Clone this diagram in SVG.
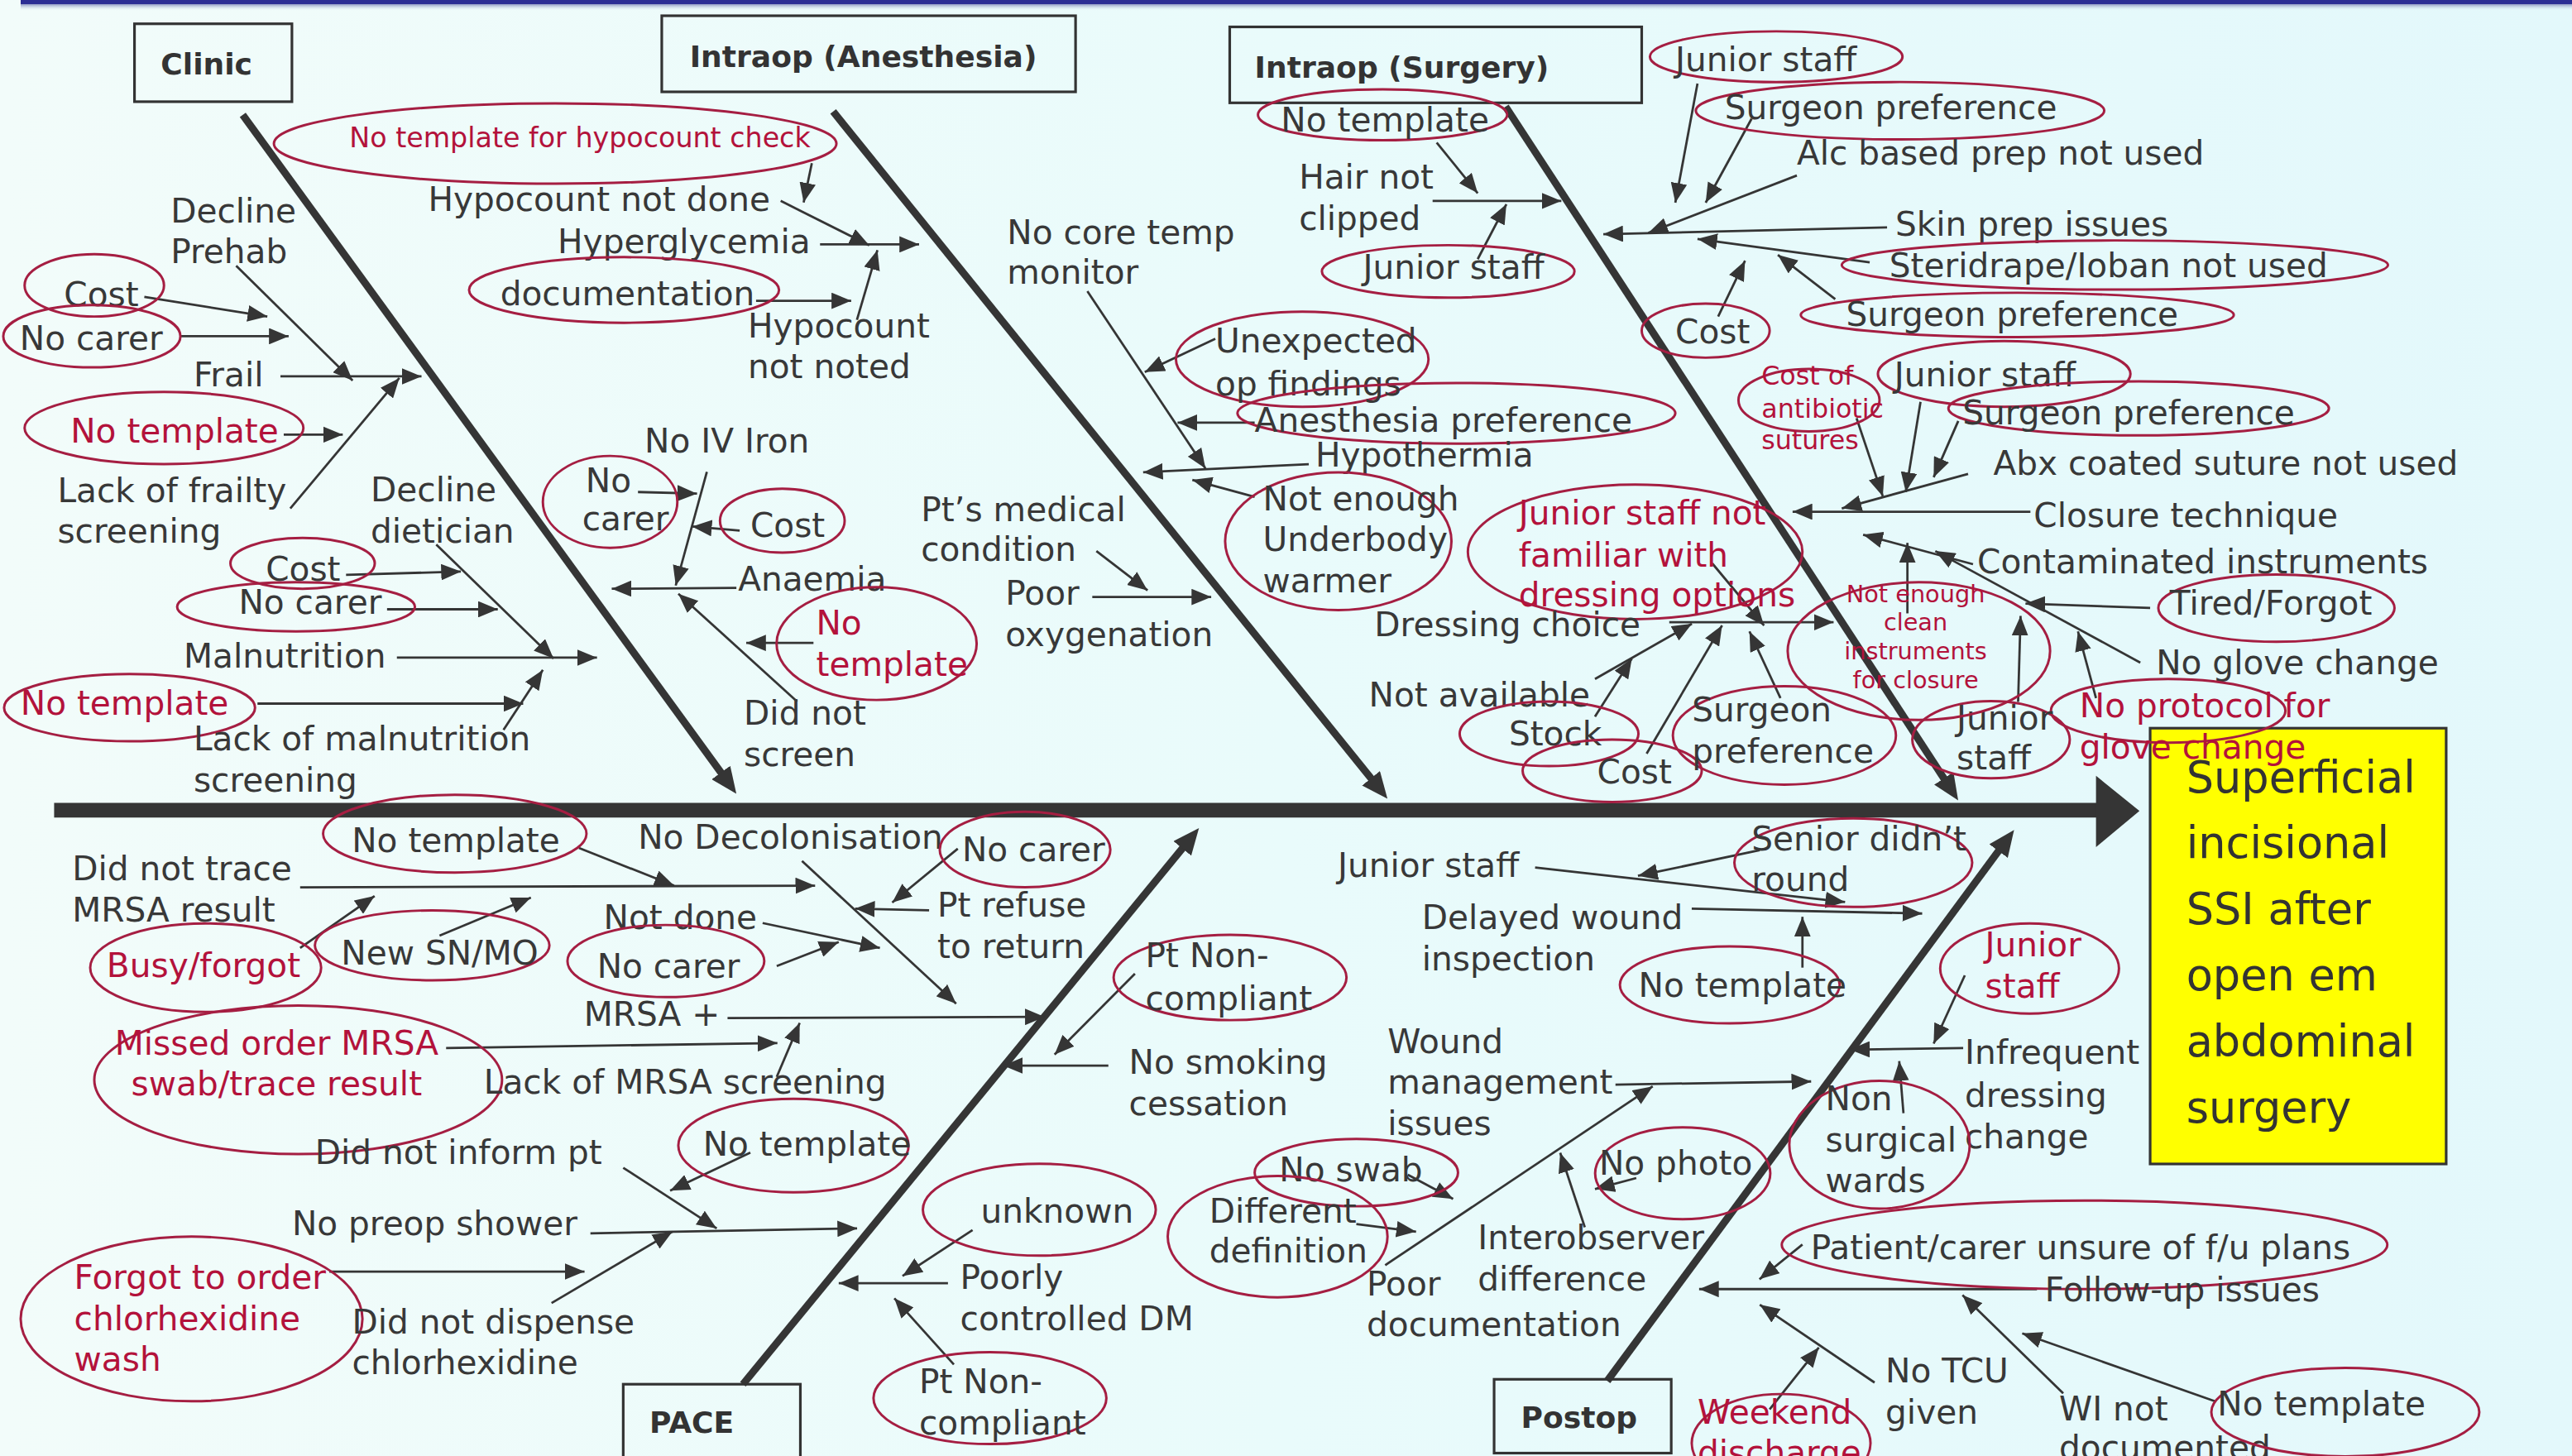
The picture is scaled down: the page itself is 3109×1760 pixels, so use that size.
<svg xmlns="http://www.w3.org/2000/svg" width="3109" height="1760" viewBox="0 0 3109 1760">
<defs>
<linearGradient id="bg" x1="0" x2="1" y1="0" y2="0"><stop offset="0" stop-color="#f2fcfa"/><stop offset="0.5" stop-color="#e9fbfb"/><stop offset="1" stop-color="#e3f8fb"/></linearGradient>
<linearGradient id="topsh" x1="0" x2="0" y1="0" y2="1"><stop offset="0" stop-color="#8f97c2"/><stop offset="1" stop-color="#e9fbfb" stop-opacity="0"/></linearGradient>
<marker id="ah" markerUnits="userSpaceOnUse" markerWidth="12" markerHeight="10" refX="12" refY="5" orient="auto"><path d="M0,0 L12,5 L0,10 z" fill="#353535"/></marker>
<marker id="bh" markerUnits="userSpaceOnUse" markerWidth="16" markerHeight="14" refX="6" refY="7" orient="auto"><path d="M0,0 L16,7 L0,14 z" fill="#353535"/></marker>
<style>
.t{font-family:"DejaVu Sans",Verdana,sans-serif;font-size:20.5px;fill:#383838}
.r{fill:#b3123b}
.e{fill:none;stroke:#a51e42;stroke-width:1.5}
.c{fill:none;stroke:#353535;stroke-width:1.4;marker-end:url(#ah)}
.bone{fill:none;stroke:#353535;stroke-width:4.5;marker-end:url(#bh)}
.box{fill:none;stroke:#333;stroke-width:1.6}
.bl{font-family:"DejaVu Sans",Verdana,sans-serif;font-weight:bold;font-size:18.2px;fill:#333}
.y{font-family:"DejaVu Sans",Verdana,sans-serif;font-size:26.5px;fill:#333}
</style>
</defs>
<rect x="0" y="0" width="3109" height="1760" fill="url(#bg)"/>
<rect x="25" y="0" width="3084" height="5" fill="#2c2e94"/>
<rect x="25" y="5" width="3084" height="8" fill="url(#topsh)"/>
<g transform="scale(1.9825)">
<g id="connectors">
<line x1="33" y1="494" x2="1282" y2="494" stroke="#353535" stroke-width="9"/>
<polygon points="1278,473 1304.5,494.5 1278,516.5" fill="#353535"/>
<line class="bone" x1="148" y1="70" x2="443.1" y2="475.9"/>
<line class="bone" x1="508" y1="68" x2="839.7" y2="479.2"/>
<line class="bone" x1="918" y1="65" x2="1188.5" y2="479.6"/>
<line class="bone" x1="453" y1="844" x2="724.7" y2="512.7"/>
<line class="bone" x1="980" y1="842" x2="1222.1" y2="514.1"/>
<!-- clinic -->
<line class="c" x1="144" y1="162" x2="215" y2="232"/>
<line class="c" x1="88" y1="181" x2="163" y2="193"/>
<line class="c" x1="110" y1="205" x2="176" y2="205"/>
<line class="c" x1="171" y1="229.5" x2="257" y2="229.5"/>
<line class="c" x1="173" y1="265" x2="209" y2="265"/>
<line class="c" x1="177" y1="310" x2="243.5" y2="230.5"/>
<line class="c" x1="266" y1="332" x2="337.5" y2="401.5"/>
<line class="c" x1="211" y1="350.5" x2="281" y2="348.5"/>
<line class="c" x1="236" y1="371.5" x2="303.5" y2="371.5"/>
<line class="c" x1="242" y1="401" x2="364" y2="401"/>
<line class="c" x1="157" y1="429" x2="319" y2="429"/>
<line class="c" x1="307" y1="445" x2="331" y2="408.5"/>
<!-- anesthesia -->
<line class="c" x1="495" y1="99.5" x2="490" y2="123.5"/>
<line class="c" x1="476" y1="122.5" x2="530" y2="149.6"/>
<line class="c" x1="500" y1="149" x2="560.4" y2="149"/>
<line class="c" x1="461" y1="183.4" x2="519" y2="183.4"/>
<line class="c" x1="522.5" y1="195" x2="535" y2="152.5"/>
<line class="c" x1="663" y1="177.6" x2="735" y2="285.6"/>
<line class="c" x1="741" y1="206.5" x2="698" y2="226.8"/>
<line class="c" x1="765" y1="257.7" x2="718" y2="257.7"/>
<line class="c" x1="798" y1="283" x2="697" y2="288"/>
<line class="c" x1="765" y1="303" x2="727" y2="292.6"/>
<line class="c" x1="431" y1="287.7" x2="412" y2="357"/>
<line class="c" x1="389" y1="300" x2="425" y2="301"/>
<line class="c" x1="451" y1="323.5" x2="422" y2="321"/>
<line class="c" x1="449" y1="358.5" x2="373" y2="359"/>
<line class="c" x1="496" y1="392" x2="455" y2="392"/>
<line class="c" x1="486" y1="427.7" x2="413.6" y2="362"/>
<line class="c" x1="668.5" y1="336" x2="699.7" y2="360"/>
<line class="c" x1="666" y1="364" x2="738.5" y2="364"/>
<!-- surgery -->
<line class="c" x1="876" y1="87" x2="901" y2="117.8"/>
<line class="c" x1="873.5" y1="122.5" x2="952" y2="122.5"/>
<line class="c" x1="901" y1="158" x2="918.5" y2="124.5"/>
<line class="c" x1="1035" y1="51" x2="1021.5" y2="123.6"/>
<line class="c" x1="1068" y1="72.4" x2="1040" y2="123.6"/>
<line class="c" x1="1095.6" y1="107" x2="1005" y2="142"/>
<line class="c" x1="1150.6" y1="138.6" x2="977.6" y2="142.8"/>
<line class="c" x1="1140" y1="160" x2="1035" y2="145.7"/>
<line class="c" x1="1119" y1="182.4" x2="1084" y2="155.4"/>
<line class="c" x1="1047.6" y1="193" x2="1064" y2="159"/>
<line class="c" x1="1132" y1="255" x2="1148" y2="302.6"/>
<line class="c" x1="1171" y1="245" x2="1162" y2="300"/>
<line class="c" x1="1194" y1="256.7" x2="1179" y2="291"/>
<line class="c" x1="1200" y1="289" x2="1123" y2="310"/>
<line class="c" x1="1238" y1="312" x2="1093" y2="312"/>
<line class="c" x1="1203" y1="344" x2="1136" y2="326"/>
<line class="c" x1="1305" y1="404" x2="1180" y2="336"/>
<line class="c" x1="1311" y1="370.7" x2="1235" y2="368"/>
<line class="c" x1="1163" y1="374" x2="1163" y2="331"/>
<line class="c" x1="1230.5" y1="428" x2="1232" y2="375.5"/>
<line class="c" x1="1278" y1="425.7" x2="1267" y2="385"/>
<line class="c" x1="1017.8" y1="379.4" x2="1118" y2="379.4"/>
<line class="c" x1="1044" y1="343.5" x2="1075.6" y2="381.4"/>
<line class="c" x1="972.5" y1="414" x2="1031.6" y2="380.3"/>
<line class="c" x1="972.5" y1="437" x2="995" y2="401.5"/>
<line class="c" x1="1004" y1="459.5" x2="1050" y2="381.3"/>
<line class="c" x1="1085.6" y1="425.7" x2="1066.7" y2="385"/>
<!-- pace -->
<line class="c" x1="353" y1="517" x2="411" y2="540"/>
<line class="c" x1="183" y1="541" x2="497" y2="540"/>
<line class="c" x1="183" y1="578" x2="228.4" y2="546.3"/>
<line class="c" x1="268" y1="570.5" x2="323.7" y2="547.3"/>
<line class="c" x1="489" y1="525" x2="583" y2="612"/>
<line class="c" x1="584" y1="517.5" x2="544" y2="550.3"/>
<line class="c" x1="566.5" y1="555" x2="521.4" y2="554"/>
<line class="c" x1="465" y1="562.8" x2="536.5" y2="578"/>
<line class="c" x1="473.6" y1="589" x2="511.4" y2="574.4"/>
<line class="c" x1="443.6" y1="620.8" x2="637" y2="620"/>
<line class="c" x1="272" y1="639" x2="474" y2="636"/>
<line class="c" x1="473.6" y1="656.6" x2="487.6" y2="623.7"/>
<line class="c" x1="380" y1="712" x2="437" y2="749"/>
<line class="c" x1="457.5" y1="702.8" x2="408.6" y2="726"/>
<line class="c" x1="360" y1="752" x2="522.6" y2="749"/>
<line class="c" x1="200.8" y1="775.3" x2="356.4" y2="775.3"/>
<line class="c" x1="336.3" y1="794.5" x2="410" y2="751"/>
<line class="c" x1="692" y1="593.7" x2="643" y2="643"/>
<line class="c" x1="675.8" y1="649.7" x2="611.7" y2="649.7"/>
<line class="c" x1="593" y1="750" x2="550.3" y2="778"/>
<line class="c" x1="578" y1="782.4" x2="511.4" y2="782.4"/>
<line class="c" x1="581.6" y1="832" x2="545.3" y2="791.6"/>
<!-- postop -->
<line class="c" x1="1073" y1="518.4" x2="998.7" y2="534"/>
<line class="c" x1="936" y1="529" x2="1125" y2="550"/>
<line class="c" x1="1031.5" y1="554" x2="1172" y2="557"/>
<line class="c" x1="1099" y1="590" x2="1099" y2="559"/>
<line class="c" x1="1198" y1="594.7" x2="1179" y2="636.3"/>
<line class="c" x1="1197" y1="639" x2="1128" y2="640"/>
<line class="c" x1="1160.6" y1="678.7" x2="1158" y2="647"/>
<line class="c" x1="985" y1="661.3" x2="1104.3" y2="659.4"/>
<line class="c" x1="844.6" y1="771.4" x2="1007.7" y2="662.4"/>
<line class="c" x1="966.3" y1="748.3" x2="951.3" y2="702.9"/>
<line class="c" x1="997.7" y1="718.3" x2="972.5" y2="725"/>
<line class="c" x1="858.4" y1="716.3" x2="886" y2="731"/>
<line class="c" x1="827" y1="746.3" x2="863.4" y2="751"/>
<line class="c" x1="1099" y1="758.8" x2="1072.8" y2="780"/>
<line class="c" x1="1242" y1="786" x2="1036" y2="786"/>
<line class="c" x1="1143" y1="843" x2="1073" y2="795.5"/>
<line class="c" x1="1079" y1="859.3" x2="1109" y2="821.6"/>
<line class="c" x1="1258" y1="849.5" x2="1196.6" y2="789.7"/>
<line class="c" x1="1350.8" y1="854.5" x2="1233" y2="813"/>
</g>
<!-- category boxes -->
<g id="box-clinic"><rect class="box" x="82" y="14.5" width="96" height="47.5"/><text class="bl" x="98" y="45.4">Clinic</text></g>
<g id="box-anesthesia"><rect class="box" x="403.5" y="9.6" width="252.3" height="46.4"/><text class="bl" x="420.5" y="41">Intraop (Anesthesia)</text></g>
<g id="box-surgery"><rect class="box" x="749.8" y="16.4" width="251.2" height="46.3"/><text class="bl" x="765" y="47.3">Intraop (Surgery)</text></g>
<g id="box-pace"><rect class="box" x="380" y="844" width="108" height="60"/><text class="bl" x="396" y="873.6">PACE</text></g>
<g id="box-postop"><rect class="box" x="911" y="841" width="108" height="45"/><text class="bl" x="927.4" y="870.6">Postop</text></g>
<g id="effect"><rect x="1311" y="444" width="180.5" height="265.7" fill="#ffff00" stroke="#333" stroke-width="1.6"/><text class="y"><tspan x="1333" y="483">Superficial</tspan><tspan x="1333" y="523.3">incisional</tspan><tspan x="1333" y="563.6">SSI after</tspan><tspan x="1333" y="604">open em</tspan><tspan x="1333" y="644.3">abdominal</tspan><tspan x="1333" y="684.6">surgery</tspan></text></g>
<!-- clinic nodes -->
<g id="c-decline-prehab"><text class="t"><tspan x="104" y="135.5">Decline</tspan><tspan x="104" y="160.5">Prehab</tspan></text></g>
<g id="c-cost1"><ellipse class="e" cx="57.5" cy="174" rx="42.5" ry="19"/><text class="t" x="39" y="186.5">Cost</text></g>
<g id="c-nocarer1"><ellipse class="e" cx="56" cy="205" rx="54" ry="19"/><text class="t" x="12" y="213.4">No carer</text></g>
<g id="c-frail"><text class="t" x="118" y="235.6">Frail</text></g>
<g id="c-notemplate1"><ellipse class="e" cx="100" cy="261" rx="85" ry="22"/><text class="t r" x="43" y="270">No template</text></g>
<g id="c-lack-frailty"><text class="t"><tspan x="35" y="306">Lack of frailty</tspan><tspan x="35" y="331">screening</tspan></text></g>
<g id="c-decline-dietician"><text class="t"><tspan x="226" y="305.7">Decline</tspan><tspan x="226" y="330.8">dietician</tspan></text></g>
<g id="c-cost2"><ellipse class="e" cx="184.5" cy="343.5" rx="44" ry="15.5"/><text class="t" x="162" y="354">Cost</text></g>
<g id="c-nocarer2"><ellipse class="e" cx="180.5" cy="370" rx="72.5" ry="15"/><text class="t" x="145.5" y="374.5">No carer</text></g>
<g id="c-malnutrition"><text class="t" x="112" y="407">Malnutrition</text></g>
<g id="c-notemplate2"><ellipse class="e" cx="79" cy="431.5" rx="76.5" ry="20.5"/><text class="t r" x="12.5" y="436">No template</text></g>
<g id="c-lack-maln"><text class="t"><tspan x="118" y="457.5">Lack of malnutrition</tspan><tspan x="118" y="482.7">screening</tspan></text></g>
<!-- anesthesia nodes -->
<g id="a-notemplate-hypo"><ellipse class="e" cx="338.5" cy="87.5" rx="171.5" ry="24.5"/><text class="t r" style="font-size:16.8px" x="213" y="90">No template for hypocount check</text></g>
<g id="a-hypocount-not-done"><text class="t" x="261" y="128.4">Hypocount not done</text></g>
<g id="a-hyperglycemia"><text class="t" x="340" y="154.5">Hyperglycemia</text></g>
<g id="a-documentation"><ellipse class="e" cx="380.5" cy="176.8" rx="94.5" ry="20"/><text class="t" x="305" y="186.3">documentation</text></g>
<g id="a-hypocount-not-noted"><text class="t"><tspan x="456" y="205.6">Hypocount</tspan><tspan x="456" y="230.7">not noted</tspan></text></g>
<g id="a-no-core-temp"><text class="t"><tspan x="614" y="148.6">No core temp</tspan><tspan x="614" y="172.8">monitor</tspan></text></g>
<g id="a-no-iv-iron"><text class="t" x="393" y="276">No IV Iron</text></g>
<g id="a-nocarer"><ellipse class="e" cx="372" cy="306" rx="41" ry="28"/><text class="t"><tspan x="357" y="300">No</tspan><tspan x="355" y="323.4">carer</tspan></text></g>
<g id="a-cost"><ellipse class="e" cx="477" cy="317.5" rx="38" ry="19.5"/><text class="t" x="457.5" y="327.5">Cost</text></g>
<g id="a-anaemia"><text class="t" x="450" y="360">Anaemia</text></g>
<g id="a-notemplate"><ellipse class="e" cx="534.5" cy="392.4" rx="61" ry="34.4"/><text class="t r"><tspan x="497.6" y="387">No</tspan><tspan x="497.6" y="412">template</tspan></text></g>
<g id="a-did-not-screen"><text class="t"><tspan x="453.5" y="442">Did not</tspan><tspan x="453.5" y="467">screen</tspan></text></g>
<g id="a-pt-medical"><text class="t"><tspan x="561.5" y="317.7">Pt’s medical</tspan><tspan x="561.5" y="341.8">condition</tspan></text></g>
<g id="a-poor-oxygenation"><text class="t"><tspan x="613" y="368.7">Poor</tspan><tspan x="613" y="394">oxygenation</tspan></text></g>
<g id="a-unexpected"><ellipse class="e" cx="794" cy="219" rx="77" ry="29"/><text class="t"><tspan x="741" y="215">Unexpected</tspan><tspan x="741" y="241">op findings</tspan></text></g>
<g id="a-anesthesia-pref"><ellipse class="e" cx="888" cy="252" rx="133.5" ry="18.5"/><text class="t" x="765" y="263.5">Anesthesia preference</text></g>
<g id="a-hypothermia"><text class="t" x="802" y="284.7">Hypothermia</text></g>
<g id="a-underbody"><ellipse class="e" cx="816" cy="330" rx="69" ry="42"/><text class="t"><tspan x="770" y="311">Not enough</tspan><tspan x="770" y="336">Underbody</tspan><tspan x="770" y="361">warmer</tspan></text></g>
<!-- surgery nodes -->
<g id="s-notemplate"><ellipse class="e" cx="843" cy="70" rx="76" ry="15.5"/><text class="t" x="781" y="80">No template</text></g>
<g id="s-hair"><text class="t"><tspan x="792" y="114.8">Hair not</tspan><tspan x="792" y="140">clipped</tspan></text></g>
<g id="s-junior1"><ellipse class="e" cx="883" cy="165.5" rx="77" ry="16"/><text class="t" x="831" y="170">Junior staff</text></g>
<g id="s-junior2"><ellipse class="e" cx="1083" cy="34.6" rx="77" ry="15.5"/><text class="t" x="1021.5" y="43.5">Junior staff</text></g>
<g id="s-surgpref1"><ellipse class="e" cx="1158.5" cy="67.5" rx="124.5" ry="17.5"/><text class="t" x="1051.6" y="72.4">Surgeon preference</text></g>
<g id="s-alc"><text class="t" x="1095.6" y="100.4">Alc based prep not used</text></g>
<g id="s-skinprep"><text class="t" x="1155.6" y="143.8">Skin prep issues</text></g>
<g id="s-steridrape"><ellipse class="e" cx="1289.5" cy="161.6" rx="166.5" ry="15"/><text class="t" x="1152" y="169">Steridrape/Ioban not used</text></g>
<g id="s-surgpref2"><ellipse class="e" cx="1230" cy="192" rx="132" ry="13.5"/><text class="t" x="1125.6" y="198.8">Surgeon preference</text></g>
<g id="s-cost1"><ellipse class="e" cx="1040" cy="201.6" rx="39" ry="16.5"/><text class="t" x="1021.5" y="209.5">Cost</text></g>
<g id="s-cost-abx"><ellipse class="e" cx="1103" cy="244" rx="43" ry="19"/><text class="t r" style="font-size:16px"><tspan x="1074" y="234.5">Cost of</tspan><tspan x="1074" y="254.8">antibiotic</tspan><tspan x="1074" y="274">sutures</tspan></text></g>
<g id="s-junior3"><ellipse class="e" cx="1222" cy="228" rx="77" ry="20"/><text class="t" x="1155" y="235.5">Junior staff</text></g>
<g id="s-surgpref3"><ellipse class="e" cx="1304" cy="249" rx="116" ry="16.5"/><text class="t" x="1196.6" y="258.6">Surgeon preference</text></g>
<g id="s-abx"><text class="t" x="1215.4" y="289.6">Abx coated suture not used</text></g>
<g id="s-closure"><text class="t" x="1240" y="321.5">Closure technique</text></g>
<g id="s-contaminated"><text class="t" x="1205.6" y="349.6">Contaminated instruments</text></g>
<g id="s-tired"><ellipse class="e" cx="1388" cy="370.8" rx="72" ry="20.5"/><text class="t" x="1323" y="374.6">Tired/Forgot</text></g>
<g id="s-noglove"><text class="t" x="1314.6" y="411">No glove change</text></g>
<g id="s-noprotocol"><ellipse class="e" cx="1322" cy="433.4" rx="71.5" ry="19.4"/><text class="t r"><tspan x="1268" y="437.4">No protocol for</tspan><tspan x="1268" y="462.6">glove change</tspan></text></g>
<g id="s-junior4"><ellipse class="e" cx="1214" cy="451" rx="48" ry="23.5"/><text class="t"><tspan x="1193" y="445">Junior</tspan><tspan x="1193" y="469">staff</tspan></text></g>
<g id="s-notenough-clean"><ellipse class="e" cx="1170" cy="397" rx="80" ry="42"/><text class="t r" style="font-size:14.5px" text-anchor="middle"><tspan x="1168" y="367">Not enough</tspan><tspan x="1168" y="384.5">clean</tspan><tspan x="1168" y="402">instruments</tspan><tspan x="1168" y="419.5">for closure</tspan></text></g>
<g id="s-junior-familiar"><ellipse class="e" cx="997" cy="336.5" rx="102" ry="41"/><text class="t r"><tspan x="926" y="319.6">Junior staff not</tspan><tspan x="926" y="345.6">familiar with</tspan><tspan x="926" y="369.8">dressing options</tspan></text></g>
<g id="s-dressing"><text class="t" x="838" y="388">Dressing choice</text></g>
<g id="s-notavailable"><text class="t" x="834.6" y="430.6">Not available</text></g>
<g id="s-stock"><ellipse class="e" cx="944.5" cy="447.4" rx="54.5" ry="19.7"/><text class="t" x="920" y="454.7">Stock</text></g>
<g id="s-cost2"><ellipse class="e" cx="983" cy="470" rx="54.6" ry="19"/><text class="t" x="973.8" y="477.6">Cost</text></g>
<g id="s-surgpref4"><ellipse class="e" cx="1088" cy="448.4" rx="68" ry="30"/><text class="t"><tspan x="1031.6" y="440">Surgeon</tspan><tspan x="1031.6" y="465">preference</tspan></text></g>
<!-- pace nodes -->
<g id="p-notemplate1"><ellipse class="e" cx="277.3" cy="508.3" rx="80.3" ry="23.7"/><text class="t" x="214.5" y="519.4">No template</text></g>
<g id="p-trace"><text class="t"><tspan x="44" y="536.8">Did not trace</tspan><tspan x="44" y="562">MRSA result</tspan></text></g>
<g id="p-busy"><ellipse class="e" cx="125.4" cy="590" rx="70.4" ry="27"/><text class="t r" x="65" y="595.7">Busy/forgot</text></g>
<g id="p-newsn"><ellipse class="e" cx="263.5" cy="576.4" rx="71.5" ry="21.3"/><text class="t" x="208" y="588">New SN/MO</text></g>
<g id="p-nodecol"><text class="t" x="389" y="517.4">No Decolonisation</text></g>
<g id="p-nocarer1"><ellipse class="e" cx="625" cy="518" rx="52" ry="23"/><text class="t" x="586.6" y="525">No carer</text></g>
<g id="p-refuse"><text class="t"><tspan x="571.5" y="559">Pt refuse</tspan><tspan x="571.5" y="584">to return</tspan></text></g>
<g id="p-notdone"><text class="t" x="368" y="566.7">Not done</text></g>
<g id="p-nocarer2"><ellipse class="e" cx="406" cy="586" rx="60" ry="22"/><text class="t" x="364" y="596">No carer</text></g>
<g id="p-mrsa"><text class="t" x="356" y="625.5">MRSA +</text></g>
<g id="p-missed"><ellipse class="e" cx="181.8" cy="658.4" rx="124.3" ry="45.3"/><text class="t r"><tspan x="70" y="643">Missed order MRSA</tspan><tspan x="80" y="668">swab/trace result</tspan></text></g>
<g id="p-lack-mrsa"><text class="t" x="295" y="667">Lack of MRSA screening</text></g>
<g id="p-inform"><text class="t" x="192" y="709.8">Did not inform pt</text></g>
<g id="p-notemplate2"><ellipse class="e" cx="483.8" cy="698.5" rx="70.2" ry="28.5"/><text class="t" x="428.6" y="704.8">No template</text></g>
<g id="p-shower"><text class="t" x="178" y="753">No preop shower</text></g>
<g id="p-forgot"><ellipse class="e" cx="116.8" cy="804.2" rx="104.2" ry="50.2"/><text class="t r"><tspan x="45.2" y="786">Forgot to order</tspan><tspan x="45.2" y="811">chlorhexidine</tspan><tspan x="45.2" y="836">wash</tspan></text></g>
<g id="p-dispense"><text class="t"><tspan x="214.6" y="813">Did not dispense</tspan><tspan x="214.6" y="838">chlorhexidine</tspan></text></g>
<g id="p-noncompliant1"><ellipse class="e" cx="750" cy="596" rx="71" ry="26"/><text class="t"><tspan x="698.4" y="589.6">Pt Non-</tspan><tspan x="698.4" y="616">compliant</tspan></text></g>
<g id="p-smoking"><text class="t"><tspan x="688.3" y="654.6">No smoking</tspan><tspan x="688.3" y="679.7">cessation</tspan></text></g>
<g id="p-unknown"><ellipse class="e" cx="633.7" cy="737.6" rx="71" ry="28"/><text class="t" x="598" y="745.3">unknown</text></g>
<g id="p-dm"><text class="t"><tspan x="585.4" y="786">Poorly</tspan><tspan x="585.4" y="811">controlled DM</tspan></text></g>
<g id="p-noncompliant2"><ellipse class="e" cx="603.6" cy="852.5" rx="71" ry="28"/><text class="t"><tspan x="560.4" y="849.5">Pt Non-</tspan><tspan x="560.4" y="874.6">compliant</tspan></text></g>
<!-- postop nodes -->
<g id="o-senior"><ellipse class="e" cx="1130" cy="526" rx="72.5" ry="27"/><text class="t"><tspan x="1068" y="518.4">Senior didn’t</tspan><tspan x="1068" y="543.5">round</tspan></text></g>
<g id="o-junior1"><text class="t" x="815.6" y="534.8">Junior staff</text></g>
<g id="o-delayed"><text class="t"><tspan x="867" y="566.7">Delayed wound</tspan><tspan x="867" y="591.7">inspection</tspan></text></g>
<g id="o-notemplate1"><ellipse class="e" cx="1054.7" cy="600.5" rx="67" ry="23.5"/><text class="t" x="999" y="608">No template</text></g>
<g id="o-junior2"><ellipse class="e" cx="1237.5" cy="590.5" rx="54.5" ry="27.5"/><text class="t r"><tspan x="1210.4" y="583">Junior</tspan><tspan x="1210.4" y="608.4">staff</tspan></text></g>
<g id="o-infrequent"><text class="t"><tspan x="1198" y="648.8">Infrequent</tspan><tspan x="1198" y="675">dressing</tspan><tspan x="1198" y="700">change</tspan></text></g>
<g id="o-nonsurgical"><ellipse class="e" cx="1146" cy="698" rx="55" ry="39"/><text class="t"><tspan x="1113" y="676.8">Non</tspan><tspan x="1113" y="702">surgical</tspan><tspan x="1113" y="727">wards</tspan></text></g>
<g id="o-wound"><text class="t"><tspan x="846" y="642">Wound</tspan><tspan x="846" y="667">management</tspan><tspan x="846" y="692">issues</tspan></text></g>
<g id="o-poordoc"><text class="t"><tspan x="833.3" y="789.8">Poor</tspan><tspan x="833.3" y="814.8">documentation</tspan></text></g>
<g id="o-interobserver"><text class="t"><tspan x="901" y="761.7">Interobserver</tspan><tspan x="901" y="786.8">difference</tspan></text></g>
<g id="o-nophoto"><ellipse class="e" cx="1026" cy="715.4" rx="53.4" ry="28"/><text class="t" x="975" y="716.3">No photo</text></g>
<g id="o-noswab"><ellipse class="e" cx="827" cy="715" rx="62" ry="20.5"/><text class="t" x="780" y="720.3">No swab</text></g>
<g id="o-different"><ellipse class="e" cx="779" cy="754" rx="67" ry="37"/><text class="t"><tspan x="737.3" y="745.3">Different</tspan><tspan x="737.3" y="769.5">definition</tspan></text></g>
<g id="o-unsure"><ellipse class="e" cx="1271" cy="759" rx="184.6" ry="27"/><text class="t" x="1104" y="767.5">Patient/carer unsure of f/u plans</text></g>
<g id="o-followup"><text class="t" x="1246.8" y="793.6">Follow-up issues</text></g>
<g id="o-tcu"><text class="t"><tspan x="1149.6" y="843">No TCU</tspan><tspan x="1149.6" y="868">given</tspan></text></g>
<g id="o-weekend"><ellipse class="e" cx="1086" cy="880" rx="54.5" ry="30"/><text class="t r"><tspan x="1035" y="868">Weekend</tspan><tspan x="1035" y="893">discharge</tspan></text></g>
<g id="o-wi"><text class="t"><tspan x="1255.5" y="866">WI not</tspan><tspan x="1255.5" y="890">documented</tspan></text></g>
<g id="o-notemplate2"><ellipse class="e" cx="1430" cy="861" rx="81.7" ry="27"/><text class="t" x="1352" y="863">No template</text></g>
</g>
</svg>
